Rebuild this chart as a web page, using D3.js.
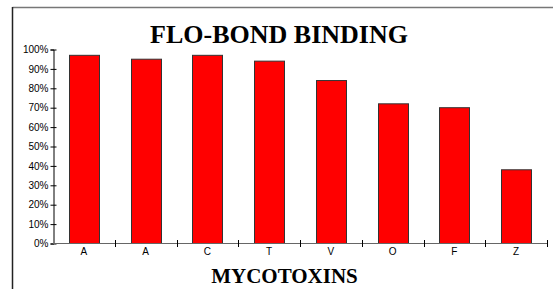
<!DOCTYPE html>
<html>
<head>
<meta charset="utf-8">
<script src="https://cdn.jsdelivr.net/npm/d3@7"></script>
<style>
  body { margin: 0; background: #fff; }
  svg { display: block; }
</style>
</head>
<body>
<div id="chart"></div>
<script>
// chart data
var categories = ["A", "A", "C", "T", "V", "O", "F", "Z"];
var values = [97, 95, 97, 94, 84, 72, 70, 38];
var yTicks = [0, 10, 20, 30, 40, 50, 60, 70, 80, 90, 100];

var width = 553, height = 289;
var plotL = 53, plotR = 547, plotT = 49, plotB = 243;

var svg = d3.select("#chart").append("svg")
  .attr("width", width)
  .attr("height", height);

// outer frame (only top and left show in the picture)
svg.append("line").attr("x1", 12.5).attr("x2", width).attr("y1", 7.5).attr("y2", 7.5)
  .attr("stroke", "#777").attr("stroke-width", 1.5);
svg.append("line").attr("x1", 12.5).attr("x2", 12.5).attr("y1", 7).attr("y2", height)
  .attr("stroke", "#222").attr("stroke-width", 1.5);

// scales
var x = d3.scaleBand().domain(d3.range(categories.length)).range([plotL, plotR]).paddingInner(0).paddingOuter(0);
var y = d3.scaleLinear().domain([0, 100]).range([plotB, plotT]);
var barW = 30;

// bars
svg.selectAll("rect.bar")
  .data(values)
  .enter().append("rect")
  .attr("class", "bar")
  .attr("x", function (d, i) { return Math.round(x(i) + x.bandwidth() / 2 - barW / 2) + 0.5; })
  .attr("y", function (d) { return y(d) + 0.5; })
  .attr("width", barW)
  .attr("height", function (d) { return plotB - y(d); })
  .attr("fill", "#ff0000")
  .attr("stroke", "#333")
  .attr("stroke-width", 1);

// y axis
var yAxis = svg.append("g").attr("transform", "translate(" + (plotL + 0.5) + ",0.5)")
  .call(d3.axisLeft(y).tickValues(yTicks).tickSize(3).tickFormat(function (d) { return d + "%"; }));
yAxis.select(".domain").attr("stroke", "#000");
yAxis.selectAll(".tick line").attr("x2", 3).attr("x1", -3).attr("stroke", "#000");
yAxis.selectAll(".tick text").attr("x", -5)
  .style("font-family", "Liberation Sans, Arial, sans-serif").style("font-size", "10px").attr("fill", "#000");

// x axis
var boundaries = d3.range(categories.length + 1).map(function (i) { return plotL + i * x.bandwidth(); });
svg.append("line").attr("x1", plotL).attr("x2", plotR).attr("y1", plotB + 0.5).attr("y2", plotB + 0.5)
  .attr("stroke", "#666").attr("stroke-width", 1);
svg.selectAll("line.xtick")
  .data(boundaries.slice(1))
  .enter().append("line")
  .attr("class", "xtick")
  .attr("x1", function (d) { return Math.round(d) + 0.5; })
  .attr("x2", function (d) { return Math.round(d) + 0.5; })
  .attr("y1", plotB - 3).attr("y2", plotB + 4)
  .attr("stroke", "#000");
svg.selectAll("text.xlabel")
  .data(categories)
  .enter().append("text")
  .attr("class", "xlabel")
  .attr("x", function (d, i) { return x(i) + x.bandwidth() / 2; })
  .attr("y", plotB + 12)
  .attr("text-anchor", "middle")
  .style("font-family", "Liberation Sans, Arial, sans-serif")
  .style("font-size", "10px")
  .text(function (d) { return d; });

// titles
svg.append("text")
  .attr("x", 279).attr("y", 43)
  .attr("text-anchor", "middle")
  .style("font-family", "Liberation Serif, Times New Roman, serif")
  .style("font-weight", "bold")
  .style("font-size", "26px")
  .text("FLO-BOND BINDING");

svg.append("text")
  .attr("x", 284.5).attr("y", 283)
  .attr("text-anchor", "middle")
  .style("font-family", "Liberation Serif, Times New Roman, serif")
  .style("font-weight", "bold")
  .style("font-size", "21px")
  .text("MYCOTOXINS");
</script>
</body>
</html>
